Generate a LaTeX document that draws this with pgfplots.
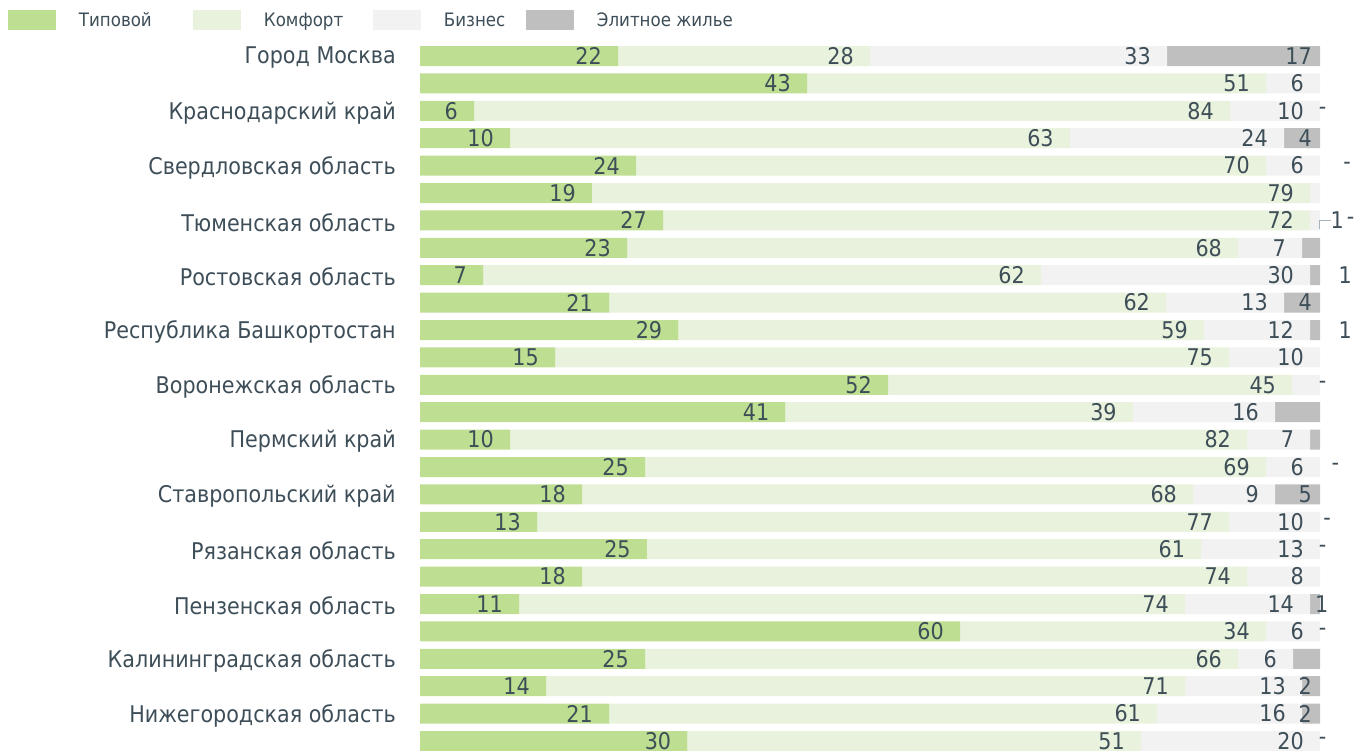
\documentclass[border=0pt]{standalone}
\usepackage{pgfplots}
\pgfplotsset{compat=1.18}
\usepackage{pgfplotstable}
\usepackage{fontspec}
\setmainfont{DejaVu Sans Condensed}
\definecolor{tip}{RGB}{190,222,146}
\definecolor{komf}{RGB}{232,242,220}
\definecolor{biz}{RGB}{242,242,242}
\definecolor{elite}{RGB}{191,191,191}
\definecolor{txt}{RGB}{62,78,88}
\definecolor{leader}{RGB}{165,180,190}

\pgfplotstableread{
y t k b e tl kl bl el
1 22 28 33 17 22 28 33 17
2 43 51 6 0 43 51 6 {}
3 6 84 10 0 6 84 10 {}
4 10 62.2 23.8 4 10 63 24 4
5 24 70 6 0 24 70 6 {}
6 19.1 79.8 1.1 0 19 79 {} {}
7 27 71.9 1.1 0 27 72 {} {}
8 23 67.9 7.1 2 23 68 7 {}
9 7 62 29.9 1.1 7 62 30 {}
10 21 61.9 13.1 4 21 62 13 4
11 28.7 58.4 11.8 1.1 29 59 12 {}
12 15 74.9 10.1 0 15 75 10 {}
13 52 44.9 3.1 0 52 45 {} {}
14 40.6 38.6 15.8 5 41 39 16 {}
15 10 81.9 7 1.1 10 82 7 {}
16 25 69 6 0 25 69 6 {}
17 18 67.9 9.1 5 18 68 9 5
18 13 76.9 10.1 0 13 77 10 {}
19 25.2 61.6 13.2 0 25 61 13 {}
20 18 73.9 8.1 0 18 74 8 {}
21 11 74 13.9 1.1 11 74 14 {}
22 60 34 6 0 60 34 6 {}
23 25 65.9 6.1 3 25 66 6 {}
24 14 71 13 2 14 71 13 2
25 21 60.9 16.1 2 21 61 16 2
26 29.7 50.4 19.9 0 30 51 20 {}
}\datatable

\pgfplotstableread{
x y l
100.3 3 -
103.0 5 -
101.9 7 1
103.4 7 -
102.8 9 1
102.8 11 1
100.3 13 -
101.7 16 -
100.8 18 -
100.3 19 -
100.2 21 1
100.3 22 -
100.3 26 -
}\extratable

\begin{document}
\begin{tikzpicture}
\begin{axis}[
  at={(420pt,-42.3pt)}, anchor=north west,
  scale only axis, width=900pt, height=712.4pt,
  xmin=0, xmax=100, ymin=0.5, ymax=26.5, y dir=reverse,
  clip=false,
  xbar stacked, bar width=20pt,
  axis line style={draw=none}, tick style={draw=none},
  xtick=\empty,
  ytick={1,...,26},
  yticklabels={Город Москва,,Краснодарский край,,Свердловская область,,Тюменская область,,Ростовская область,,Республика Башкортостан,,Воронежская область,,Пермский край,,Ставропольский край,,Рязанская область,,Пензенская область,,Калининградская область,,Нижегородская область,},
  yticklabel style={inner sep=0pt, xshift=-24pt, yshift=-2pt, font=\fontsize{23}{23}\selectfont, text=txt},
  nodes near coords,
  point meta=explicit symbolic,
  visualization depends on={rawx \as \rawx},
  nodes near coords align={east},
  every node near coord/.append style={anchor=east, xshift=\rawx*4.5pt-16pt, inner sep=0pt, font=\fontsize{23}{23}\selectfont, text=txt},
  legend image code/.code={\fill[#1] (0pt,-10pt) rectangle (48pt,10pt);},
  legend columns=4,
  legend style={at={(axis description cs:-0.45778,1.04534)}, anchor=north west,
    draw=none, fill=none, inner sep=0pt, outer sep=0pt,
    font=\fontsize{18.5}{18.5}\selectfont, text=txt,
    /tikz/every odd column/.style={column sep=23pt},
    /tikz/every even column/.style={column sep=0pt},
    nodes={inner sep=0pt}},
]
\addplot[fill=tip, draw=none] table[x=t, y=y, meta=tl]{\datatable};
\addplot[fill=komf, draw=none] table[x=k, y=y, meta=kl]{\datatable};
\addplot[fill=biz, draw=none] table[x=b, y=y, meta=bl]{\datatable};
\addplot[fill=elite, draw=none, every node near coord/.append style={xshift=8pt}] table[x=e, y=y, meta=el]{\datatable};
\legend{\makebox[114pt][l]{Типовой},\makebox[109pt][l]{Комфорт},\makebox[82pt][l]{Бизнес},Элитное жилье}
\end{axis}
\begin{axis}[
  at={(420pt,-42.3pt)}, anchor=north west,
  scale only axis, width=900pt, height=712.4pt,
  xmin=0, xmax=100, ymin=0.5, ymax=26.5, y dir=reverse,
  clip=false, hide axis,
]
\addplot[draw=none, nodes near coords, point meta=explicit symbolic,
  nodes near coords align={center},
  every node near coord/.append style={anchor=center, inner sep=0pt, font=\fontsize{23}{23}\selectfont, text=txt}]
  table[x=x, y=y, meta=l]{\extratable};
\addplot[leader, line width=1pt] coordinates {(99.9,7.33) (99.9,7.0) (101.2,7.0)};
\end{axis}
\pgfresetboundingbox
\path (0pt,0pt) rectangle (1354pt,-751pt);
\end{tikzpicture}
\end{document}
